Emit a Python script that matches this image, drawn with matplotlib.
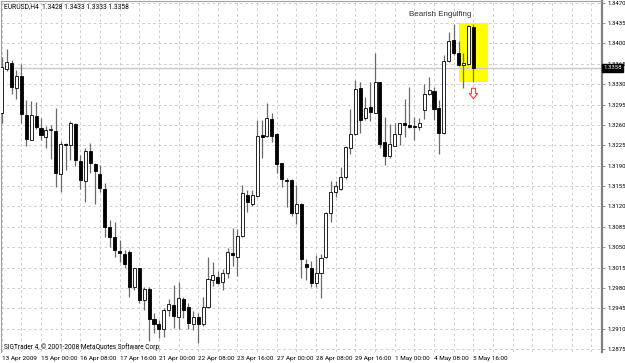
import matplotlib
matplotlib.use("Agg")
import matplotlib.pyplot as plt
import matplotlib.transforms as mtransforms

# EURUSD H4 (O, H, L, C)
opens = [1.3281, 1.3357, 1.3367, 1.3323, 1.3345, 1.3277, 1.3235, 1.3276, 1.3255, 1.3240,
         1.3252, 1.3250, 1.3175, 1.3227, 1.3225, 1.3262, 1.3198, 1.3164, 1.3216, 1.3193,
         1.3176, 1.3150, 1.3085, 1.3067, 1.3044, 1.3038, 1.3041, 1.2982, 1.3014, 1.2959,
         1.2978, 1.2926, 1.2918, 1.2909, 1.2943, 1.2951, 1.2930, 1.2961, 1.2948, 1.2918,
         1.2930, 1.2918, 1.2947, 1.2994, 1.2999, 1.2991, 1.3005, 1.3040, 1.3034, 1.3069,
         1.3140, 1.3125, 1.3138, 1.3242, 1.3241, 1.3271, 1.3245, 1.3194, 1.3166, 1.3166,
         1.3109, 1.3124, 1.3022, 1.3015, 1.2989, 1.3005, 1.3033, 1.3108, 1.3145, 1.3150,
         1.3170, 1.3220, 1.3245, 1.3323, 1.3272, 1.3291, 1.3281, 1.3333, 1.3230, 1.3207,
         1.3224, 1.3245, 1.3263, 1.3260, 1.3258, 1.3257, 1.3285, 1.3313, 1.3319, 1.3289,
         1.3246, 1.3370, 1.3406, 1.3384, 1.3363, 1.3365, 1.3428]
highs = [1.3377, 1.3390, 1.3372, 1.3354, 1.3365, 1.3303, 1.3302, 1.3300, 1.3272, 1.3258,
         1.3260, 1.3290, 1.3233, 1.3229, 1.3267, 1.3263, 1.3208, 1.3220, 1.3229, 1.3195,
         1.3191, 1.3160, 1.3097, 1.3094, 1.3062, 1.3046, 1.3045, 1.3015, 1.3015, 1.2982,
         1.2982, 1.2937, 1.2925, 1.2945, 1.2961, 1.2985, 1.2990, 1.2965, 1.2954, 1.2940,
         1.2937, 1.2965, 1.3034, 1.3025, 1.3010, 1.3012, 1.3048, 1.3083, 1.3081, 1.3157,
         1.3148, 1.3148, 1.3269, 1.3269, 1.3297, 1.3280, 1.3246, 1.3195, 1.3169, 1.3168,
         1.3157, 1.3126, 1.3029, 1.3027, 1.3037, 1.3038, 1.3111, 1.3163, 1.3164, 1.3188,
         1.3224, 1.3287, 1.3337, 1.3334, 1.3308, 1.3333, 1.3383, 1.3334, 1.3274, 1.3262,
         1.3263, 1.3264, 1.3304, 1.3326, 1.3274, 1.3272, 1.3330, 1.3343, 1.3326, 1.3303,
         1.3380, 1.3419, 1.3434, 1.3405, 1.3384, 1.3432, 1.3433]
lows = [1.3263, 1.3352, 1.3314, 1.3304, 1.3264, 1.3224, 1.3234, 1.3253, 1.3235, 1.3220,
        1.3201, 1.3154, 1.3145, 1.3183, 1.3199, 1.3190, 1.3150, 1.3128, 1.3177, 1.3124,
        1.3145, 1.3068, 1.3051, 1.3033, 1.3025, 1.3014, 1.2965, 1.2977, 1.2954, 1.2943,
        1.2889, 1.2903, 1.2894, 1.2896, 1.2931, 1.2911, 1.2910, 1.2928, 1.2909, 1.2908,
        1.2885, 1.2915, 1.2945, 1.2983, 1.2987, 1.2977, 1.2997, 1.3018, 1.3001, 1.3068,
        1.3111, 1.3120, 1.3136, 1.3204, 1.3239, 1.3231, 1.3178, 1.3154, 1.3119, 1.3104,
        1.3090, 1.2997, 1.2994, 1.2982, 1.2981, 1.2963, 1.3032, 1.3094, 1.3137, 1.3148,
        1.3168, 1.3210, 1.3243, 1.3246, 1.3269, 1.3267, 1.3280, 1.3220, 1.3191, 1.3203,
        1.3224, 1.3226, 1.3239, 1.3255, 1.3235, 1.3251, 1.3270, 1.3312, 1.3269, 1.3211,
        1.3245, 1.3369, 1.3380, 1.3361, 1.3323, 1.3363, 1.3333]
closes = [1.3360, 1.3368, 1.3325, 1.3344, 1.3279, 1.3236, 1.3277, 1.3256, 1.3242, 1.3251,
          1.3253, 1.3178, 1.3227, 1.3225, 1.3263, 1.3199, 1.3166, 1.3216, 1.3194, 1.3181,
          1.3151, 1.3085, 1.3067, 1.3045, 1.3040, 1.3022, 1.2981, 1.3014, 1.2959, 1.2979,
          1.2926, 1.2918, 1.2910, 1.2943, 1.2952, 1.2932, 1.2963, 1.2942, 1.2919, 1.2930,
          1.2918, 1.2948, 1.2996, 1.3002, 1.2989, 1.3005, 1.3041, 1.3037, 1.3069, 1.3143,
          1.3127, 1.3140, 1.3241, 1.3240, 1.3272, 1.3241, 1.3193, 1.3167, 1.3163, 1.3109,
          1.3124, 1.3029, 1.3016, 1.2989, 1.3006, 1.3031, 1.3108, 1.3145, 1.3156, 1.3171,
          1.3223, 1.3245, 1.3321, 1.3269, 1.3290, 1.3283, 1.3334, 1.3227, 1.3207, 1.3227,
          1.3244, 1.3263, 1.3260, 1.3257, 1.3257, 1.3263, 1.3314, 1.3320, 1.3287, 1.3246,
          1.3370, 1.3405, 1.3383, 1.3363, 1.3367, 1.3430, 1.3358]

label_bars = [0, 8, 16, 24, 32, 40, 48, 56, 64, 72, 80, 88, 96]
label_texts = ["13 Apr 2009", "15 Apr 00:00", "16 Apr 08:00", "17 Apr 16:00", "21 Apr 00:00",
               "22 Apr 08:00", "23 Apr 16:00", "27 Apr 00:00", "28 Apr 08:00", "29 Apr 16:00",
               "1 May 00:00", "4 May 08:00", "5 May 16:00"]
price_ticks = [1.2875, 1.2910, 1.2945, 1.2980, 1.3015, 1.3050, 1.3085, 1.3120, 1.3155,
               1.3190, 1.3225, 1.3260, 1.3295, 1.3330, 1.3365, 1.3400, 1.3435, 1.3470]
last_price = 1.3358
header = "EURUSD,H4  1.3428 1.3433 1.3333 1.3358"

# motif "Bearish Engulfing"
pattern_bars = (93, 99)
pattern_prices = (1.3334, 1.3436)
signal_bar = 96
signal_price = 1.3315

FONT = "Roboto"
FS = 4.3

fig = plt.figure(figsize=(6.25, 3.63), dpi=100)
fig.patch.set_facecolor("white")
ax = fig.add_axes([1.5 / 625, 11 / 363, 600 / 625, 351 / 363])
ax.set_xlim(-0.04, 122.1)
ax.set_ylim(1.2870, 1.3473)

# grille
ax.set_yticks(price_ticks)
ax.set_yticklabels([f"{p:.4f}" for p in price_ticks], fontsize=FS, family=FONT)
ax.set_xticks(label_bars)
ax.set_xticklabels(label_texts, fontsize=4.6, family=FONT)
for lab in ax.get_xticklabels():
    lab.set_ha("left")
ax.set_xticks(range(0, 123, 4), minor=True)
ax.tick_params(axis="x", which="both", length=0, pad=3)
ax.yaxis.tick_right()
ax.tick_params(axis="y", length=2.5, width=0.6, color="#808080", pad=1.5)
ax.grid(True, which="both", color="#cccccc", linestyle=(0, (3, 3)), linewidth=0.65)
ax.set_axisbelow(True)

for side in ["left", "top"]:
    ax.spines[side].set_color("#a0a0a0")
    ax.spines[side].set_linewidth(0.8)
ax.spines["bottom"].set_visible(False)
ax.spines["right"].set_color("#808080")
ax.spines["right"].set_linewidth(1.6)

# rectangle jaune + ligne du prix courant
ax.fill_between(pattern_bars, pattern_prices[0], pattern_prices[1], color="#ffff00", zorder=1.5, linewidth=0)
ax.axhline(last_price, color="#c8c8d0", linewidth=1, zorder=1.6)

# bougies
x = list(range(len(opens)))
ax.vlines(x, lows, highs, color="#6a6a6a", linewidth=0.9, zorder=2)
bottoms = [min(o, c) for o, c in zip(opens, closes)]
heights = [max(abs(c - o), 0.00008) for o, c in zip(opens, closes)]
colors = ["white" if c >= o else "black" for o, c in zip(opens, closes)]
ax.bar(x, heights, bottom=bottoms, width=0.62, color=colors, edgecolor="black", linewidth=0.6, zorder=3)

# fleche rouge
arrow = [(-0.2, 0.5), (0.2, 0.5), (0.2, 0.0), (0.4, 0.0), (0.0, -0.5), (-0.4, 0.0), (-0.2, 0.0), (-0.2, 0.5)]
ax.plot([signal_bar], [signal_price], marker=arrow, markersize=7.5, markerfacecolor="white",
        markeredgecolor="#ff3b3b", markeredgewidth=0.8, linestyle="none", zorder=4)

ax.text(89.2, 1.3449, "Bearish Engulfing", fontsize=5.8, family=["Liberation Sans", "DejaVu Sans"],
        color="#303030", ha="center", va="center", zorder=4)

# textes MT4
ax.text(2.5 / 600, 1 - 5.2 / 351, header, transform=ax.transAxes, fontsize=4.9, family=FONT,
        ha="left", va="center", zorder=5)
ax.text(2 / 600, 4.5 / 351, "SIGTrader 4, © 2001-2008 MetaQuotes Software Corp.", transform=ax.transAxes,
        fontsize=4.7, family=FONT, ha="left", va="center", zorder=5)

trans = mtransforms.blended_transform_factory(ax.transAxes, ax.transData)
ax.text(1.0 + 2 / 600, last_price, f"{last_price:.4f}", transform=trans, fontsize=FS, family=FONT,
        color="white", ha="left", va="center", zorder=6, clip_on=False,
        bbox=dict(boxstyle="square,pad=0.2", facecolor="black", edgecolor="black"))

fig.savefig("out.png", dpi=100)
